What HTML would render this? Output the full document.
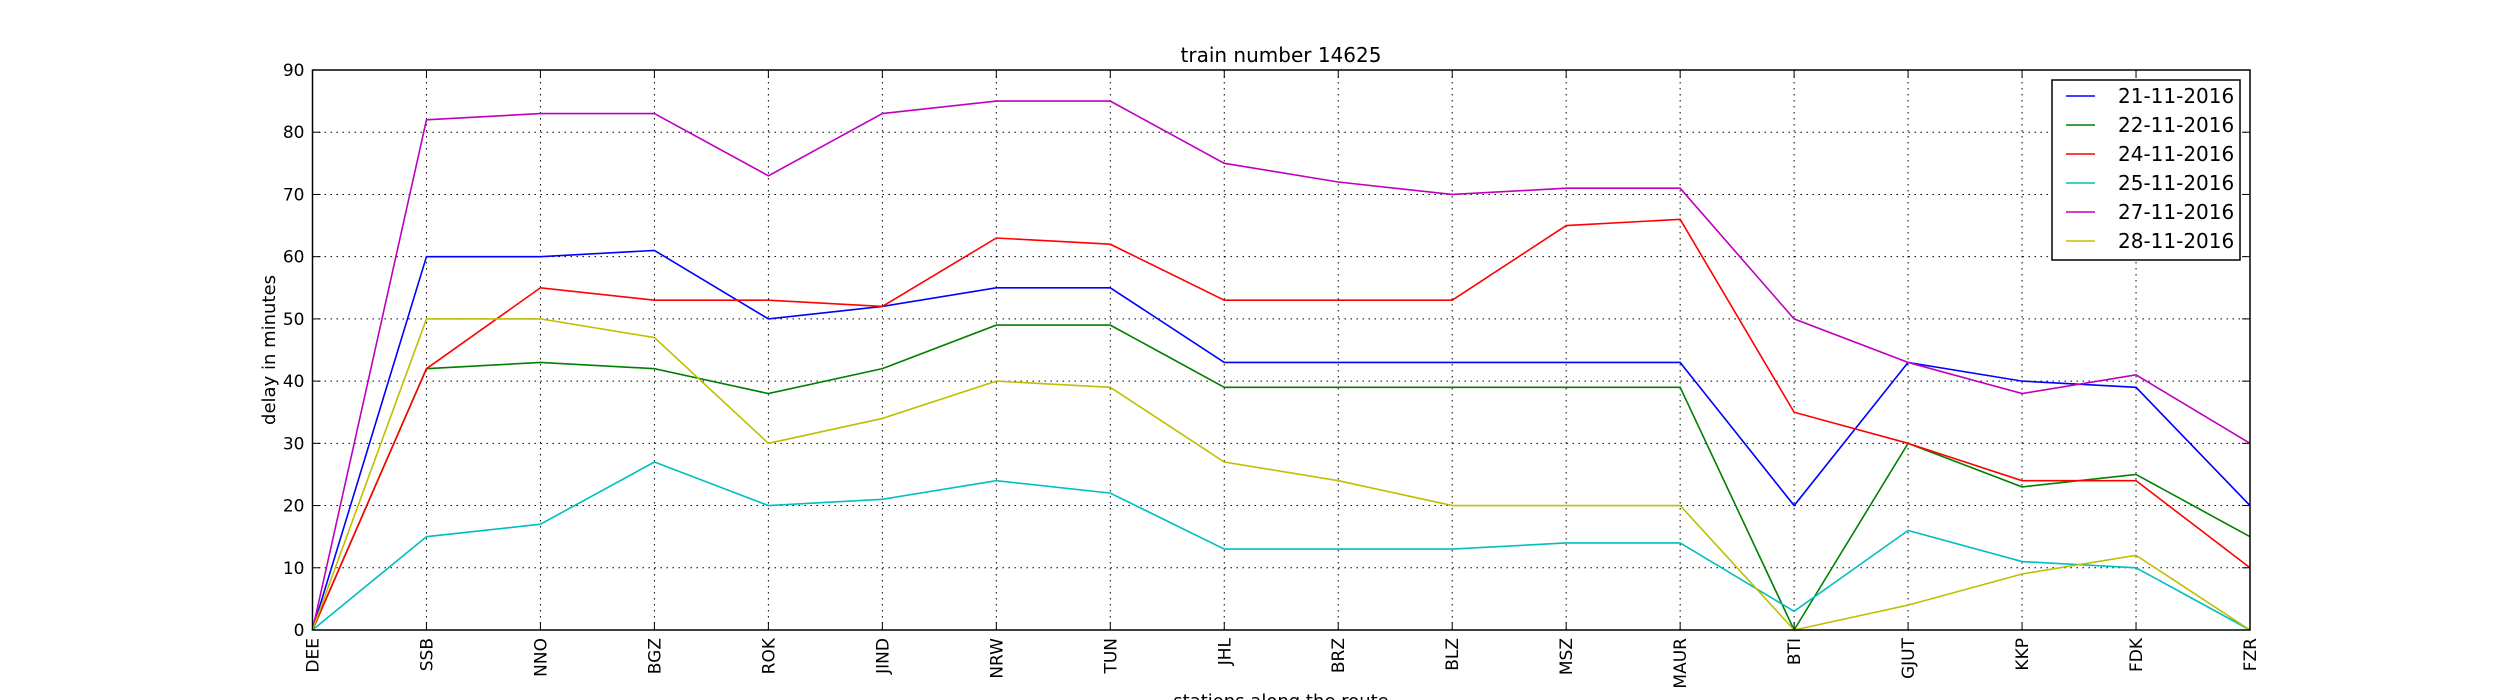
<!DOCTYPE html>
<html><head><meta charset="utf-8"><style>
body{margin:0;background:#fff}
svg{display:block;font-family:"DejaVu Sans","Liberation Sans",sans-serif}
</style></head><body>
<svg id="chart" width="2500" height="700" xmlns="http://www.w3.org/2000/svg">
<rect width="2500" height="700" fill="#fff"/>
<text x="1281" y="62" font-size="20" text-anchor="middle">train number 14625</text>
<g id="grid"></g>
<g id="series"></g>
<rect x="312.5" y="70" width="1937.5" height="560" fill="none" stroke="#000" stroke-width="1.5"/>
<g id="ticks"></g>
<text transform="translate(275,350) rotate(-90)" font-size="18" text-anchor="middle">delay in minutes</text>
<text x="1281" y="707" font-size="18" text-anchor="middle">stations along the route</text>
<g id="legend"></g>
</svg>
<script>
const stations=["DEE","SSB","NNO","BGZ","ROK","JIND","NRW","TUN","JHL","BRZ","BLZ","MSZ","MAUR","BTI","GJUT","KKP","FDK","FZR"];
const yTicks=[0,10,20,30,40,50,60,70,80,90];
const seriesNames=["21-11-2016","22-11-2016","24-11-2016","25-11-2016","27-11-2016","28-11-2016"];
const s21=[0,60,60,61,50,52,55,55,43,43,43,43,43,20,43,40,39,20];
const s22=[0,42,43,42,38,42,49,49,39,39,39,39,39,0,30,23,25,15];
const s24=[0,42,55,53,53,52,63,62,53,53,53,65,66,35,30,24,24,10];
const s25=[0,15,17,27,20,21,24,22,13,13,13,14,14,3,16,11,10,0];
const s27=[0,82,83,83,73,83,85,85,75,72,70,71,71,50,43,38,41,30];
const s28=[0,50,50,47,30,34,40,39,27,24,20,20,20,0,4,9,12,0];
const seriesColors=["#0000ff","#008000","#ff0000","#00bfbf","#bf00bf","#bfbf00"];
const allSeries=[s21,s22,s24,s25,s27,s28];
const L=312.5,R=2250,T=70,B=630,yMax=90;
const xs=i=>L+i*(R-L)/(stations.length-1);
const ys=v=>B-v/yMax*(B-T);
const NS="http://www.w3.org/2000/svg";
function mk(tag,attrs,parent){const e=document.createElementNS(NS,tag);for(const k in attrs)e.setAttribute(k,attrs[k]);parent.appendChild(e);return e;}
const grid=document.getElementById('grid'),ticks=document.getElementById('ticks'),ser=document.getElementById('series'),leg=document.getElementById('legend');
yTicks.forEach(v=>{
  const y=ys(v);
  const g=mk('line',{x1:L,x2:R,y1:y,y2:y,stroke:'#000','stroke-width':1,'stroke-dasharray':'1.5,4.5'},grid);
  
  
  mk('line',{x1:L,x2:L+8,y1:y,y2:y,stroke:'#000','stroke-width':1},ticks);
  mk('line',{x1:R,x2:R-8,y1:y,y2:y,stroke:'#000','stroke-width':1},ticks);
  const t=mk('text',{x:L-8,y:y+6,'font-size':17,'text-anchor':'end'},ticks);
  t.textContent=v;
  
  
});
stations.forEach((s,i)=>{
  const x=xs(i);
  const g=mk('line',{x1:x,x2:x,y1:T,y2:B,stroke:'#000','stroke-width':1,'stroke-dasharray':'1.5,4.5'},grid);
  
  
  mk('line',{x1:x,x2:x,y1:B,y2:B-8,stroke:'#000','stroke-width':1},ticks);
  mk('line',{x1:x,x2:x,y1:T,y2:T+8,stroke:'#000','stroke-width':1},ticks);
  const t=mk('text',{transform:`translate(${x+6},${B+8}) rotate(-90)`,'font-size':17,'text-anchor':'end'},ticks);
  t.textContent=s;
  
  
});
allSeries.forEach((arr,k)=>{
  const p=mk('polyline',{points:arr.map((v,i)=>xs(i)+','+ys(v)).join(' '),fill:'none',stroke:seriesColors[k],'stroke-width':1.6},ser);
  
  
});
const lb=mk('rect',{x:2052,y:80,width:188,height:180,fill:'#fff',stroke:'#000','stroke-width':1.5},leg);


seriesNames.forEach((n,k)=>{
  const y=96+k*29;
  const ln=mk('line',{x1:2066,x2:2095,y1:y,y2:y,stroke:seriesColors[k],'stroke-width':1.6},leg);
  
  
  const t=mk('text',{x:2118,y:y+7,'font-size':20},leg);
  t.textContent=n;
  
  
});
</script>
</body></html>
